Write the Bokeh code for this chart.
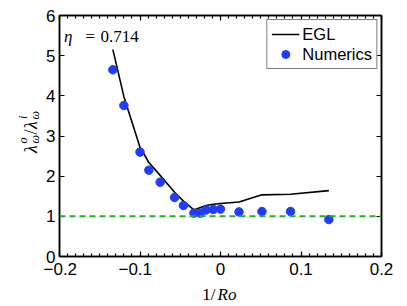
from bokeh.plotting import figure
from bokeh.layouts import column, row
from bokeh.models import (Range1d, LinearAxis, FixedTicker, Label, Legend,
                          LegendItem, Span, CustomLabelingPolicy)
from bokeh.embed import file_html
from bokeh.resources import INLINE

# ---------------- data ----------------
inv_ro = [-0.1337, -0.120, -0.100, -0.089, -0.075, -0.057, -0.046, -0.033,
          -0.025, -0.018, -0.009, 0.000, 0.023, 0.0515, 0.087, 0.1346]
ratio_numerics = [4.65, 3.76, 2.60, 2.15, 1.85, 1.47, 1.27, 1.08,
                  1.08, 1.16, 1.17, 1.18, 1.11, 1.12, 1.12, 0.92]
ratio_egl = [5.15, 3.98, 2.72, 2.34, 2.02, 1.60, 1.38, 1.16,
             1.22, 1.27, 1.30, 1.32, 1.355, 1.535, 1.55, 1.64]
reference_level = 1.0
x_ticks = [-0.2, -0.1, 0.0, 0.1, 0.2]
x_tick_labels = ["\u22120.2\u2007", "\u22120.1\u2007", "0", "0.1", "0.2"]
y_ticks = [0, 1, 2, 3, 4, 5, 6]
y_tick_labels = ["0", "1", "2", "3", "4", "5", "6"]
eta_text = "0.714"
series_names = ["EGL", "Numerics"]

x_minor = [round(-0.2 + 0.01 * i, 2) for i in range(41)]

SANS = "Liberation Sans"
SERIF = "Liberation Serif"

YW = 43          # width of the y-label strip
LEFT = 14        # main plot's left border
MAIN_W = 407 - YW
MAIN_H = 281
TOTAL_W = YW + MAIN_W

# ---------------- main plot ----------------
xr = Range1d(-0.2, 0.2)
p = figure(width=MAIN_W, height=MAIN_H,
           min_border_left=LEFT, min_border_right=26,
           min_border_top=15, min_border_bottom=23,
           x_range=xr, y_range=Range1d(0, 6),
           x_axis_type=None, y_axis_type=None,
           output_backend="svg", toolbar_location=None)
p.grid.visible = False
p.outline_line_color = "black"
p.outline_line_width = 1.5
p.background_fill_color = "white"
p.border_fill_color = "white"

hide_labels = CustomLabelingPolicy(
    code="const a = [...indices]; for (const i of a) indices.unset(i); return indices")


def make_axis(ticks, minor, labels, show_labels):
    ax = LinearAxis(ticker=FixedTicker(ticks=ticks, minor_ticks=minor))
    ax.major_label_overrides = {t: l for t, l in zip(ticks, labels)}
    ax.axis_line_color = "black"
    ax.axis_line_width = 1.5
    ax.major_tick_in = 5
    ax.major_tick_out = 0
    ax.minor_tick_in = 3
    ax.minor_tick_out = 0
    ax.major_tick_line_color = "black"
    ax.minor_tick_line_color = "black"
    ax.major_tick_line_width = 1.2
    ax.minor_tick_line_width = 1.2
    ax.major_label_text_font = SANS
    ax.major_label_text_color = "black"
    if show_labels:
        ax.major_label_text_font_size = "17px"
    else:
        ax.major_label_text_font_size = "6px"
        ax.major_label_policy = hide_labels
        ax.major_label_standoff = 0
    return ax


bx = make_axis(x_ticks, x_minor, x_tick_labels, True)
bx.major_label_standoff = 3
p.add_layout(bx, "below")
p.add_layout(make_axis(x_ticks, x_minor, x_tick_labels, False), "above")
ly = make_axis(y_ticks, [], y_tick_labels, True)
ly.major_label_standoff = 4
p.add_layout(ly, "left")
p.add_layout(make_axis(y_ticks, [], y_tick_labels, False), "right")

# reference line
p.add_layout(Span(location=reference_level, dimension="width",
                  line_color="#22b022", line_width=2, line_dash="6 4"))

egl = p.line(inv_ro, ratio_egl, line_color="black", line_width=1.6)
num = p.scatter(inv_ro, ratio_numerics, size=8.5, fill_color="#1f3dff",
                line_color="#1f3dff")

legend = Legend(items=[LegendItem(label=series_names[0], renderers=[egl]),
                       LegendItem(label=series_names[1], renderers=[num])],
                location="top_right")
legend.border_line_color = "black"
legend.border_line_width = 1.5
legend.label_text_font = SANS
legend.label_text_font_size = "16.5px"
legend.label_text_color = "black"
legend.glyph_width = 28
legend.label_standoff = 3
legend.padding = 4
legend.spacing = 0
legend.margin = 4
legend.label_height = 18
legend.background_fill_alpha = 1
p.add_layout(legend)

# eta annotation
for txt, dx, ital in [("\u03b7", 4.5, True), ("=", 26, False),
                      (eta_text, 41, False)]:
    p.add_layout(Label(x=-0.2, y=6, x_offset=dx, y_offset=-21, text=txt,
                       text_font=SERIF,
                       text_font_style="italic" if ital else "normal",
                       text_font_size="17px", text_color="black",
                       text_align="left", text_baseline="alphabetic"))

# ---------------- y label strip ----------------
yfig = figure(width=YW, height=MAIN_H, x_range=Range1d(0, 1),
              y_range=Range1d(0, 1), x_axis_type=None, y_axis_type=None,
              min_border=0, output_backend="svg", toolbar_location=None)
yfig.grid.visible = False
yfig.outline_line_color = None
yfig.background_fill_color = "white"
yfig.border_fill_color = "white"
BX = 30    # baseline position from the strip's left edge (px)
UC = 4     # label centre relative to strip centre (px, up)
pieces = [  # (text, u along text, v above baseline, size, italic)
    ("\u03bb", -21, 0, "18px", True),
    ("\u03c9", -11.5, -4, "12px", True),
    ("o", -11.5, 7.5, "12px", True),
    ("/", -2.5, 0, "18px", False),
    ("\u03bb", 3, 0, "18px", True),
    ("\u03c9", 12.5, -4, "12px", True),
    ("i", 13, 7.5, "12px", True),
]
for txt, u, v, fs, it in pieces:
    yfig.add_layout(Label(x=0, y=0.5, x_offset=BX - v, y_offset=UC + u,
                          text=txt, angle=1.5707963, text_font=SERIF,
                          text_font_style="italic" if it else "normal",
                          text_font_size=fs, text_color="black",
                          text_align="left", text_baseline="alphabetic"))

# ---------------- x label strip ----------------
xfig = figure(width=TOTAL_W, height=306 - MAIN_H, x_range=xr,
              y_range=Range1d(0, 1), x_axis_type=None, y_axis_type=None,
              min_border_left=YW + LEFT, min_border_right=26,
              min_border_top=0, min_border_bottom=0,
              output_backend="svg", toolbar_location=None)
xfig.grid.visible = False
xfig.outline_line_color = None
xfig.background_fill_color = "white"
xfig.border_fill_color = "white"
xfig.add_layout(Label(x=0.0, y=0, x_offset=-4, y_offset=12, text="1/",
                      text_font=SERIF, text_font_size="17px",
                      text_color="black", text_align="right",
                      text_baseline="alphabetic"))
xfig.add_layout(Label(x=0.0, y=0, x_offset=-2, y_offset=12, text="Ro",
                      text_font=SERIF, text_font_style="italic",
                      text_font_size="17px", text_color="black",
                      text_align="left", text_baseline="alphabetic"))

layout = column(row(yfig, p, spacing=0), xfig, spacing=0)
open("out.html", "w").write(file_html(layout, INLINE))
